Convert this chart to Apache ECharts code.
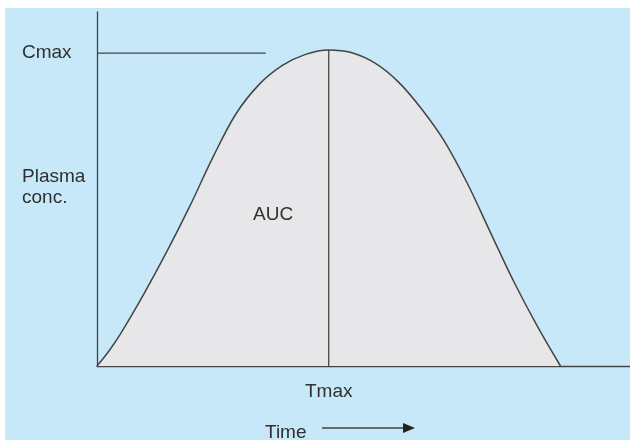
<!DOCTYPE html>
<html>
<head>
<meta charset="utf-8">
<script src="https://cdn.jsdelivr.net/npm/echarts@6/dist/echarts.min.js"></script>
<style>
html,body{margin:0;padding:0;background:#ffffff;}
#c{width:630px;height:440px;}
</style>
</head>
<body>
<div id="c"></div>
<script>
// Curve readings (time units, concentration as % of Cmax)
const times = [0, 0.5, 1, 2, 3, 4, 5, 6, 7, 8, 9, 10, 11, 12, 13, 14, 15, 16, 17, 18, 19, 20];
const conc  = [0, 4.6, 10, 22.5, 36, 50.5, 66, 79.8, 89.1, 95.1, 98.6, 100, 99.1, 95.8, 89.9, 81.4, 71.0, 57.5, 41.9, 26.5, 12.6, 0];
const tmax = 10;
const cmaxLevel = 99;
const cmaxLineEnd = 7.28;
const yLabelValues = [99, 56.6];
const yLabelTexts = ['Cmax', 'Plasma\nconc.'];
const xLabelValues = [10];
const xLabelTexts = ['Tmax'];
const aucLabel = {text: 'AUC', t: 7.6, c: 48};
const timeLabel = 'Time';

const FONT = 'Liberation Sans, Arial, sans-serif';
const TXT = '#303030';
const LINE = '#444444';

const chart = echarts.init(document.getElementById('c'), null, {renderer: 'canvas'});
chart.setOption({
  backgroundColor: '#ffffff',
  animation: false,
  graphic: [
    {type: 'rect', z: -10, shape: {x: 5, y: 8, width: 625, height: 432}, style: {fill: '#c6e8f8'}},
    {type: 'text', left: 265, top: 423, style: {text: timeLabel, font: '19px ' + FONT, fill: TXT}},
    {type: 'line', shape: {x1: 322, y1: 428, x2: 405, y2: 428}, style: {stroke: LINE, lineWidth: 1.5}},
    {type: 'polygon', shape: {points: [[403, 423], [415, 428], [403, 433]]}, style: {fill: '#222'}}
  ],
  grid: {left: 97, right: 0, top: 12, bottom: 74, containLabel: false},
  xAxis: {
    type: 'value', min: 0, max: 23,
    axisLine: {show: true, onZero: false, lineStyle: {color: LINE, width: 1.3}},
    axisTick: {show: false},
    splitLine: {show: false},
    axisLabel: {
      customValues: xLabelValues,
      formatter: v => xLabelTexts[xLabelValues.indexOf(v)] || '',
      color: TXT, fontSize: 19, fontFamily: FONT, margin: 16
    }
  },
  yAxis: {
    type: 'value', min: 0, max: 112,
    axisLine: {show: true, onZero: false, lineStyle: {color: LINE, width: 1.3}},
    axisTick: {show: false},
    splitLine: {show: false},
    axisLabel: {
      customValues: yLabelValues,
      formatter: v => yLabelTexts[yLabelValues.indexOf(v)] || '',
      align: 'left', margin: 75,
      color: TXT, fontSize: 19, fontFamily: FONT, lineHeight: 21
    }
  },
  series: [
    {
      type: 'line', smooth: 0.35, symbol: 'none',
      data: times.map((t, i) => [t, conc[i]]),
      lineStyle: {color: LINE, width: 1.5},
      areaStyle: {color: '#e7e7e9', opacity: 1},
      markPoint: {
        symbol: 'circle', symbolSize: 0,
        data: [{coord: [aucLabel.t, aucLabel.c], value: aucLabel.text}],
        label: {show: true, position: 'inside', formatter: aucLabel.text, color: TXT, fontSize: 19, fontFamily: FONT}
      },
      z: 2
    },
    {
      type: 'line', symbol: 'none',
      data: [[tmax, 0], [tmax, 100]],
      lineStyle: {color: LINE, width: 1.3}, z: 3
    },
    {
      type: 'line', symbol: 'none',
      data: [[0, cmaxLevel], [cmaxLineEnd, cmaxLevel]],
      lineStyle: {color: LINE, width: 1.3}, z: 3
    }
  ]
});
</script>
</body>
</html>
